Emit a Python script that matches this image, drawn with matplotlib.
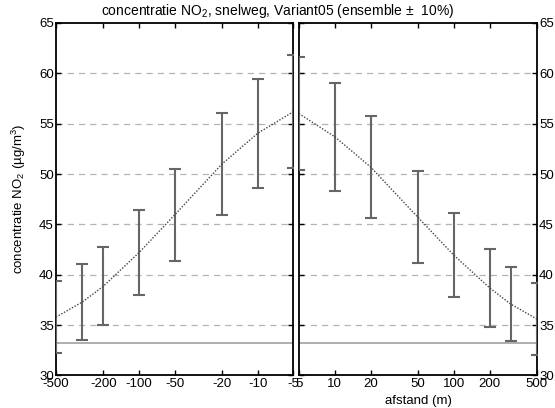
import matplotlib
matplotlib.use('Agg')
import matplotlib.pyplot as plt
from matplotlib.ticker import FixedLocator, FixedFormatter, NullLocator

plt.rcParams['font.family'] = ['Liberation Sans', 'DejaVu Sans']
plt.rcParams['mathtext.fontset'] = 'custom'
plt.rcParams['mathtext.rm'] = 'Liberation Sans'
plt.rcParams['mathtext.it'] = 'Liberation Sans:italic'

# afstand tot de weg (m), links en rechts van de snelweg
afstand_links = [500, 300, 200, 100, 50, 20, 10, 5]
conc_links = [35.8, 37.3, 38.85, 42.2, 45.95, 51.0, 54.05, 56.2]
afstand_rechts = [5, 10, 20, 50, 100, 200, 300, 500]
conc_rechts = [56.0, 53.7, 50.7, 45.7, 41.95, 38.7, 37.1, 35.6]
spreiding = 0.10          # ensemble +/- 10%
achtergrond = 33.25       # achtergrondconcentratie

xticks_links = [500, 200, 100, 50, 20, 10, 5]
xlabels_links = ['-500', '-200', '-100', '-50', '-20', '-10', '-5']
xticks_rechts = [5, 10, 20, 50, 100, 200, 500]
xlabels_rechts = ['5', '10', '20', '50', '100', '200', '500']
yticks = [30, 35, 40, 45, 50, 55, 60, 65]

fig = plt.figure(figsize=(5.55, 4.08), dpi=100)
ax1 = fig.add_axes([0.1009, 0.0797, 0.4279, 0.864])
ax2 = fig.add_axes([0.5387, 0.0797, 0.4288, 0.864])

for ax, afst, conc, xt, xl in [(ax1, afstand_links, conc_links, xticks_links, xlabels_links),
                               (ax2, afstand_rechts, conc_rechts, xticks_rechts, xlabels_rechts)]:
    ax.set_xscale('log')
    for y in yticks[1:-1]:
        ax.axhline(y, color='#b4b4b4', lw=0.9, ls=(0, (5, 4)), zorder=1)
    ax.axhline(achtergrond, color='#a8a8a8', lw=1.3, zorder=2)
    fout = [c * spreiding for c in conc]
    ax.errorbar(afst, conc, yerr=fout, fmt='none', ecolor='#666666',
                elinewidth=1.5, capsize=4.5, capthick=1.5, zorder=3)
    ax.plot(afst, conc, color='#444444', lw=1.0, ls=(0, (1, 1.2)), zorder=4)
    ax.set_ylim(30, 65)
    ax.xaxis.set_major_locator(FixedLocator(xt))
    ax.xaxis.set_major_formatter(FixedFormatter(xl))
    ax.xaxis.set_minor_locator(NullLocator())
    ax.set_yticks(yticks)
    ax.tick_params(direction='in', length=3.5, width=1.0, labelsize=9.5,
                   top=True, right=True, bottom=True, left=True, pad=1.5)
    for s in ax.spines.values():
        s.set_linewidth(1.3)

ax1.set_xlim(500, 5)
ax2.set_xlim(5, 500)
ax1.tick_params(labelleft=True, labelright=False)
ax2.tick_params(labelleft=False, labelright=True)

ax1.set_ylabel('concentratie NO$_2$ (µg/m$^3$)', fontsize=9.5, labelpad=8)
ax2.set_xlabel('afstand (m)', fontsize=9.5, labelpad=4)
fig.text(0.5, 0.972, 'concentratie NO$_2$, snelweg, Variant05 (ensemble ±  10%)',
         ha='center', va='center', fontsize=10)

plt.savefig('out.png', dpi=100)
